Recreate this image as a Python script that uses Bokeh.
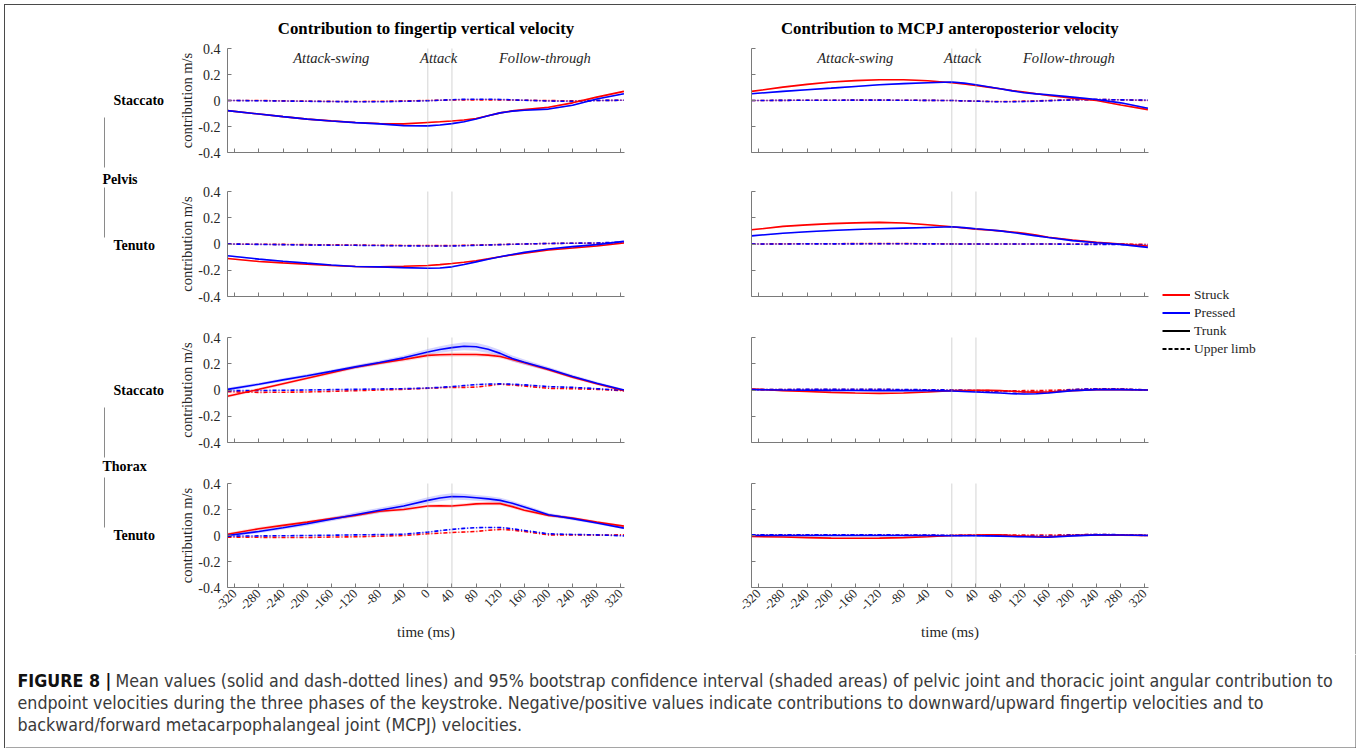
import math
import numpy as np
from bokeh.plotting import figure
from bokeh.models import (Range1d, FixedTicker, Span, Label, Legend, LegendItem,
                          CustomJSTickFormatter, Title, Spacer)
from bokeh.layouts import column, row
from bokeh.embed import file_html
from bokeh.resources import INLINE

# ---------------- data ----------------
time_ms = [-332, -280, -240, -200, -160, -120, -80, -40, 0, 20, 40, 60, 80, 100, 120, 140, 160, 200, 240, 280, 325]
x_ticks = [-320, -280, -240, -200, -160, -120, -80, -40, 0, 40, 80, 120, 160, 200, 240, 280, 320]
x_tick_labels = ["-320", "-280", "-240", "-200", "-160", "-120", "-80", "-40", "0", "40", "80",
                 "120", "160", "200", "240", "280", "320"]
y_ticks = [-0.4, -0.2, 0, 0.2, 0.4]
y_tick_labels = ["-0.4", "-0.2", "0", "0.2", "0.4"]
phase_lines = [0, 40]
phase_names = ["Attack-swing", "Attack", "Follow-through"]
col_titles = ["Contribution to fingertip vertical velocity",
              "Contribution to MCPJ anteroposterior velocity"]
legend_labels = ["Struck", "Pressed", "Trunk", "Upper limb"]
caption_bold = "FIGURE 8 |"
caption_lines = [
    "Mean values (solid and dash-dotted lines) and 95% bootstrap confidence interval (shaded areas) of pelvic joint and thoracic joint angular contribution to",
    "endpoint velocities during the three phases of the keystroke. Negative/positive values indicate contributions to downward/upward fingertip velocities and to",
    "backward/forward metacarpophalangeal joint (MCPJ) velocities.",
]

# fingertip vertical velocity (left column)
fv_pel_stac_struck_trunk = [-0.078, -0.104, -0.124, -0.143, -0.157, -0.169, -0.177, -0.180, -0.169, -0.164, -0.158, -0.150, -0.138, -0.117, -0.095, -0.080, -0.070, -0.052, -0.018, 0.026, 0.070]
fv_pel_stac_press_trunk = [-0.078, -0.104, -0.124, -0.143, -0.158, -0.170, -0.180, -0.193, -0.195, -0.189, -0.178, -0.163, -0.143, -0.118, -0.095, -0.082, -0.075, -0.066, -0.036, 0.012, 0.052]
fv_pel_stac_struck_limb = [0.000, 0.000, -0.003, -0.005, -0.007, -0.008, -0.006, -0.003, 0.000, 0.002, 0.004, 0.005, 0.005, 0.005, 0.004, 0.003, 0.002, -0.001, -0.002, 0.000, 0.002]
fv_pel_stac_press_limb = [0.000, -0.002, -0.004, -0.006, -0.008, -0.009, -0.010, -0.006, -0.002, 0.002, 0.006, 0.009, 0.010, 0.010, 0.008, 0.005, 0.002, -0.004, -0.007, 0.000, 0.002]

fv_pel_ten_struck_trunk = [-0.110, -0.133, -0.144, -0.154, -0.164, -0.172, -0.174, -0.170, -0.164, -0.157, -0.149, -0.139, -0.128, -0.113, -0.097, -0.083, -0.070, -0.046, -0.031, -0.015, 0.008]
fv_pel_ten_press_trunk = [-0.090, -0.115, -0.131, -0.146, -0.160, -0.172, -0.174, -0.180, -0.185, -0.183, -0.174, -0.156, -0.136, -0.116, -0.097, -0.080, -0.064, -0.038, -0.020, -0.005, 0.020]
fv_pel_ten_struck_limb = [0.000, -0.002, -0.003, -0.005, -0.006, -0.008, -0.010, -0.011, -0.012, -0.012, -0.012, -0.010, -0.008, -0.006, -0.004, -0.002, 0.000, 0.004, 0.006, 0.005, 0.010]
fv_pel_ten_press_limb = [0.000, -0.003, -0.005, -0.008, -0.009, -0.010, -0.012, -0.014, -0.015, -0.015, -0.015, -0.013, -0.010, -0.008, -0.005, -0.002, 0.000, 0.004, 0.006, 0.008, 0.015]

fv_tho_stac_struck_trunk = [-0.047, 0.005, 0.048, 0.090, 0.132, 0.173, 0.205, 0.233, 0.264, 0.268, 0.270, 0.271, 0.270, 0.266, 0.255, 0.232, 0.207, 0.155, 0.098, 0.047, -0.005]
fv_tho_stac_press_trunk = [0.005, 0.044, 0.077, 0.109, 0.142, 0.176, 0.210, 0.245, 0.290, 0.308, 0.323, 0.333, 0.330, 0.310, 0.279, 0.240, 0.212, 0.160, 0.103, 0.052, 0.000]
fv_tho_stac_struck_limb = [-0.013, -0.018, -0.017, -0.015, -0.010, -0.005, 0.000, 0.005, 0.013, 0.017, 0.020, 0.020, 0.022, 0.033, 0.044, 0.038, 0.030, 0.013, 0.010, 0.005, -0.005]
fv_tho_stac_press_limb = [-0.005, -0.004, -0.002, 0.000, 0.003, 0.005, 0.008, 0.010, 0.015, 0.020, 0.026, 0.034, 0.041, 0.045, 0.047, 0.044, 0.039, 0.026, 0.020, 0.010, -0.003]

fv_tho_ten_struck_trunk = [0.010, 0.052, 0.078, 0.103, 0.130, 0.155, 0.186, 0.200, 0.227, 0.228, 0.227, 0.235, 0.243, 0.246, 0.245, 0.222, 0.194, 0.155, 0.134, 0.103, 0.072]
fv_tho_ten_press_trunk = [0.000, 0.031, 0.060, 0.090, 0.125, 0.160, 0.194, 0.227, 0.270, 0.288, 0.300, 0.298, 0.290, 0.282, 0.270, 0.248, 0.220, 0.160, 0.130, 0.096, 0.057]
fv_tho_ten_struck_limb = [-0.013, -0.014, -0.015, -0.015, -0.012, -0.010, -0.005, 0.000, 0.013, 0.018, 0.023, 0.027, 0.031, 0.040, 0.047, 0.042, 0.031, 0.005, 0.005, 0.003, 0.005]
fv_tho_ten_press_limb = [-0.005, -0.003, -0.002, 0.000, 0.002, 0.005, 0.007, 0.010, 0.026, 0.037, 0.047, 0.055, 0.060, 0.062, 0.062, 0.052, 0.039, 0.013, 0.008, 0.005, -0.003]

# MCPJ anteroposterior velocity (right column)
ap_pel_stac_struck_trunk = [0.070, 0.103, 0.124, 0.142, 0.153, 0.160, 0.160, 0.152, 0.137, 0.127, 0.116, 0.103, 0.090, 0.077, 0.065, 0.052, 0.039, 0.018, 0.000, -0.034, -0.070]
ap_pel_stac_press_trunk = [0.052, 0.070, 0.083, 0.095, 0.108, 0.121, 0.130, 0.137, 0.142, 0.134, 0.121, 0.106, 0.090, 0.074, 0.060, 0.051, 0.044, 0.026, 0.008, -0.018, -0.060]
ap_pel_stac_struck_limb = [0.000, 0.001, 0.002, 0.002, 0.003, 0.003, 0.002, 0.001, 0.000, -0.003, -0.005, -0.007, -0.008, -0.007, -0.005, -0.003, 0.000, 0.005, 0.008, 0.005, 0.000]
ap_pel_stac_press_limb = [0.000, 0.001, 0.002, 0.002, 0.003, 0.003, 0.002, 0.001, 0.000, -0.003, -0.005, -0.008, -0.010, -0.010, -0.008, -0.005, -0.002, 0.005, 0.008, 0.005, 0.003]

ap_pel_ten_struck_trunk = [0.108, 0.134, 0.146, 0.155, 0.161, 0.165, 0.160, 0.147, 0.131, 0.122, 0.113, 0.107, 0.100, 0.092, 0.082, 0.068, 0.052, 0.031, 0.013, 0.000, -0.015]
ap_pel_ten_press_trunk = [0.062, 0.082, 0.093, 0.103, 0.110, 0.116, 0.121, 0.126, 0.131, 0.125, 0.116, 0.108, 0.100, 0.088, 0.075, 0.062, 0.049, 0.026, 0.010, -0.003, -0.026]
ap_pel_ten_struck_limb = [0.000, 0.001, 0.002, 0.002, 0.003, 0.003, 0.003, 0.002, 0.001, 0.000, 0.000, 0.000, 0.000, 0.000, 0.000, 0.000, 0.000, 0.000, 0.000, 0.000, -0.003]
ap_pel_ten_press_limb = [0.000, 0.000, 0.001, 0.001, 0.001, 0.002, 0.002, 0.001, 0.000, 0.000, 0.000, 0.000, 0.000, 0.000, 0.000, 0.000, 0.000, -0.002, -0.003, -0.004, -0.008]

ap_tho_stac_struck_trunk = [0.008, -0.005, -0.012, -0.018, -0.023, -0.026, -0.023, -0.015, -0.005, -0.004, -0.003, -0.003, -0.005, -0.010, -0.015, -0.016, -0.015, -0.005, 0.003, 0.003, 0.000]
ap_tho_stac_press_trunk = [0.003, 0.000, -0.002, -0.003, -0.004, -0.005, -0.005, -0.005, -0.008, -0.011, -0.015, -0.019, -0.023, -0.028, -0.031, -0.029, -0.023, -0.005, 0.003, 0.003, 0.000]
ap_tho_stac_struck_limb = [0.003, 0.003, 0.003, 0.003, 0.003, 0.003, 0.002, 0.001, -0.002, -0.003, -0.004, -0.005, -0.006, -0.006, -0.005, -0.004, -0.003, 0.003, 0.010, 0.008, 0.000]
ap_tho_stac_press_limb = [0.003, 0.004, 0.005, 0.005, 0.005, 0.005, 0.004, 0.002, 0.000, -0.002, -0.005, -0.008, -0.010, -0.012, -0.014, -0.016, -0.018, 0.003, 0.010, 0.008, 0.000]

ap_tho_ten_struck_trunk = [-0.008, -0.012, -0.016, -0.020, -0.021, -0.020, -0.016, -0.010, 0.000, 0.002, 0.003, 0.005, 0.005, 0.000, -0.005, -0.008, -0.010, 0.000, 0.005, 0.003, 0.000]
ap_tho_ten_press_trunk = [0.000, 0.000, 0.000, 0.000, 0.000, 0.000, 0.000, 0.000, -0.002, -0.002, -0.002, -0.003, -0.005, -0.008, -0.010, -0.012, -0.013, -0.003, 0.005, 0.004, 0.000]
ap_tho_ten_struck_limb = [0.003, 0.003, 0.003, 0.003, 0.003, 0.003, 0.002, 0.001, 0.000, 0.001, 0.002, 0.003, 0.003, 0.003, 0.003, 0.004, 0.004, 0.005, 0.008, 0.005, 0.000]
ap_tho_ten_press_limb = [0.005, 0.005, 0.005, 0.005, 0.005, 0.005, 0.004, 0.003, 0.002, 0.002, 0.001, 0.000, 0.000, -0.002, -0.003, -0.004, -0.005, 0.004, 0.008, 0.006, 0.003]

# 95% bootstrap CI half-widths (read from the shaded areas)
ci_trunk_narrow = 0.006
ci_limb_narrow = 0.004
fv_tho_stac_struck_ci = [0.012, 0.012, 0.012, 0.012, 0.013, 0.013, 0.014, 0.015, 0.016, 0.016, 0.016, 0.016, 0.016, 0.015, 0.015, 0.014, 0.014, 0.013, 0.012, 0.010, 0.008]
fv_tho_stac_press_ci = [0.012, 0.012, 0.012, 0.012, 0.013, 0.014, 0.015, 0.018, 0.022, 0.025, 0.028, 0.030, 0.030, 0.028, 0.025, 0.022, 0.020, 0.016, 0.013, 0.010, 0.008]
fv_tho_ten_struck_ci = [0.012, 0.013, 0.013, 0.013, 0.013, 0.013, 0.013, 0.013, 0.014, 0.014, 0.014, 0.014, 0.014, 0.014, 0.014, 0.014, 0.013, 0.012, 0.010, 0.010, 0.008]
fv_tho_ten_press_ci = [0.012, 0.013, 0.014, 0.015, 0.016, 0.018, 0.020, 0.022, 0.024, 0.025, 0.025, 0.024, 0.022, 0.021, 0.020, 0.018, 0.017, 0.014, 0.012, 0.010, 0.008]

panels = [
    [  # left column
        (fv_pel_stac_struck_trunk, fv_pel_stac_press_trunk, fv_pel_stac_struck_limb, fv_pel_stac_press_limb, ci_trunk_narrow, ci_trunk_narrow),
        (fv_pel_ten_struck_trunk, fv_pel_ten_press_trunk, fv_pel_ten_struck_limb, fv_pel_ten_press_limb, ci_trunk_narrow, ci_trunk_narrow),
        (fv_tho_stac_struck_trunk, fv_tho_stac_press_trunk, fv_tho_stac_struck_limb, fv_tho_stac_press_limb, fv_tho_stac_struck_ci, fv_tho_stac_press_ci),
        (fv_tho_ten_struck_trunk, fv_tho_ten_press_trunk, fv_tho_ten_struck_limb, fv_tho_ten_press_limb, fv_tho_ten_struck_ci, fv_tho_ten_press_ci),
    ],
    [  # right column
        (ap_pel_stac_struck_trunk, ap_pel_stac_press_trunk, ap_pel_stac_struck_limb, ap_pel_stac_press_limb, ci_trunk_narrow, ci_trunk_narrow),
        (ap_pel_ten_struck_trunk, ap_pel_ten_press_trunk, ap_pel_ten_struck_limb, ap_pel_ten_press_limb, ci_trunk_narrow, ci_trunk_narrow),
        (ap_tho_stac_struck_trunk, ap_tho_stac_press_trunk, ap_tho_stac_struck_limb, ap_tho_stac_press_limb, ci_trunk_narrow, ci_trunk_narrow),
        (ap_tho_ten_struck_trunk, ap_tho_ten_press_trunk, ap_tho_ten_struck_limb, ap_tho_ten_press_limb, ci_trunk_narrow, ci_trunk_narrow),
    ],
]

# ---------------- style / layout ----------------
RED = "#ff0000"
BLUE = "#0000ff"
SERIF = "Liberation Serif"
CAP_FONT = "DejaVu Sans Condensed"
AXIS_COL = "#7a7a7a"
TXT_COL = "#262626"
LIMB_DASH = "4 2 1 2"
FRAME_COL = "#4a4a4a"

ROW_TOP = [43, 22, 20, 21]
ROW_FRAME = [104, 105, 105, 104]
ROW_BOT = [17, 21, 20, 67]
LAB_W = 164
COL_W = [520, 470]
COL_BL = [58, 62]
COL_BR = [65, 11]
LEG_W = 197
CAP_H = 94
XR = (-332, 326)
PHASE_X = [-160, 18, 194]

empty_fmt = CustomJSTickFormatter(code="return ''")


def make_panel(ci_col, ri, series):
    st, pt, sl, pl, cs, cp = series
    p = figure(width=COL_W[ci_col], height=ROW_TOP[ri] + ROW_FRAME[ri] + ROW_BOT[ri],
               x_range=Range1d(*XR), y_range=Range1d(-0.4, 0.4),
               output_backend="svg", toolbar_location=None, title=None,
               min_border_left=COL_BL[ci_col], min_border_right=COL_BR[ci_col],
               min_border_top=ROW_TOP[ri], min_border_bottom=ROW_BOT[ri])
    p.outline_line_color = None
    p.grid.visible = False
    p.background_fill_color = "white"
    p.border_fill_color = "white"

    t = np.array(time_ms, dtype=float)
    for vals, ci, col, alpha in ((st, cs, RED, 0.14), (pt, cp, BLUE, 0.17)):
        v = np.array(vals)
        c = np.array(ci) if np.ndim(ci) else np.full_like(v, ci)
        p.varea(x=t, y1=v - c, y2=v + c, fill_color=col, fill_alpha=alpha)
    for vals, col, alpha in ((sl, RED, 0.12), (pl, BLUE, 0.15)):
        v = np.array(vals)
        p.varea(x=t, y1=v - ci_limb_narrow, y2=v + ci_limb_narrow, fill_color=col, fill_alpha=alpha)

    p.line(t, sl, line_color=RED, line_width=1.6, line_dash=LIMB_DASH)
    p.line(t, pl, line_color=BLUE, line_width=1.6, line_dash=LIMB_DASH)
    p.line(t, st, line_color=RED, line_width=1.6)
    p.line(t, pt, line_color=BLUE, line_width=1.6)

    for loc in phase_lines:
        p.add_layout(Span(location=loc, dimension="height", line_color="#a8a8a8",
                          line_width=1, line_dash="1 1"))

    xa = p.xaxis[0]
    ya = p.yaxis[0]
    for ax in (xa, ya):
        ax.axis_line_color = AXIS_COL
        ax.major_tick_line_color = AXIS_COL
        ax.minor_tick_line_color = None
        ax.major_tick_in = 4
        ax.major_tick_out = 0
        ax.major_label_text_font = SERIF
        ax.major_label_text_color = TXT_COL
        ax.axis_label_text_font = SERIF
        ax.axis_label_text_font_style = "normal"
        ax.axis_label_text_color = TXT_COL
    xa.ticker = FixedTicker(ticks=x_ticks)
    ya.ticker = FixedTicker(ticks=y_ticks)

    if ri == 3:
        xa.major_label_overrides = {v: s for v, s in zip(x_ticks, x_tick_labels)}
        xa.major_label_orientation = math.pi / 4
        xa.major_label_text_font_size = "13px"
        xa.major_label_standoff = 4
        xa.axis_label = "time (ms)"
        xa.axis_label_text_font_size = "15px"
        xa.axis_label_standoff = 7
    else:
        xa.formatter = empty_fmt
        xa.major_label_standoff = 0

    if ci_col == 0:
        ya.major_label_overrides = {v: s for v, s in zip(y_ticks, y_tick_labels)}
        ya.major_label_text_font_size = "14px"
        ya.major_label_standoff = 7
        ya.axis_label = "contribution m/s"
        ya.axis_label_text_font_size = "14.5px"
        ya.axis_label_standoff = 0
    else:
        ya.formatter = empty_fmt
        ya.major_label_standoff = 0

    if ri == 0:
        p.title = Title(text=col_titles[ci_col], align="center", text_font=SERIF,
                        text_font_style="bold", text_font_size="16.8px", text_color="black",
                        standoff=21)
        for px, name in zip(PHASE_X, phase_names):
            p.add_layout(Label(x=px, y=0.327, text=name, text_align="center",
                               text_baseline="middle", text_font=SERIF,
                               text_font_style="italic", text_font_size="14.6px",
                               text_color=TXT_COL))
    return p


cols = []
for ci_col in range(2):
    cols.append(column(*[make_panel(ci_col, ri, panels[ci_col][ri]) for ri in range(4)]))

TOTAL_H = sum(ROW_TOP) + sum(ROW_FRAME) + sum(ROW_BOT)
TOTAL_W = LAB_W + sum(COL_W) + LEG_W


def blank_fig(w, h, flip_y=True):
    f = figure(width=w, height=h, x_range=Range1d(0, w),
               y_range=Range1d(h, 0) if flip_y else Range1d(0, h),
               x_axis_type=None, y_axis_type=None, output_backend="svg",
               toolbar_location=None, title=None, min_border=0)
    f.outline_line_color = None
    f.grid.visible = False
    return f


# row labels
lab = blank_fig(LAB_W, TOTAL_H)
row_labels = [("Staccato", 108, 95), ("Pelvis", 97, 174), ("Tenuto", 108, 240),
              ("Staccato", 108, 385), ("Thorax", 97, 461), ("Tenuto", 108, 530)]
for txt, lx, ly in row_labels:
    lab.add_layout(Label(x=lx, y=ly, text=txt, text_align="left", text_baseline="middle",
                         text_font=SERIF, text_font_style="bold", text_font_size="14px",
                         text_color="black"))
lab.segment(x0=[99, 99, 99, 99], y0=[112, 182, 402, 472], x1=[99, 99, 99, 99],
            y1=[162, 232, 452, 522], line_color="#8a8a8a", line_width=1)

# legend column (also carries the right edge of the figure frame)
leg = blank_fig(LEG_W, TOTAL_H)
off = [-5, -4]
r1 = leg.line(off, off, line_color=RED, line_width=2)
r2 = leg.line(off, off, line_color=BLUE, line_width=2)
r3 = leg.line(off, off, line_color="black", line_width=2)
r4 = leg.line(off, off, line_color="black", line_width=2, line_dash="4 2")
legend = Legend(items=[LegendItem(label=l, renderers=[r]) for l, r in zip(legend_labels, [r1, r2, r3, r4])],
                location=(3, 297), orientation="vertical", padding=0, spacing=1, margin=0,
                glyph_width=28, glyph_height=17, label_height=17, label_standoff=4,
                label_text_font=SERIF, label_text_font_size="13.5px", label_text_color=TXT_COL,
                border_line_color=None, background_fill_alpha=0)
leg.add_layout(legend)
leg.add_layout(Span(location=LEG_W - 0.5, dimension="height", line_color=FRAME_COL, line_width=1))

# caption (with right and bottom edges of the frame)
cap = blank_fig(TOTAL_W, CAP_H)
cap.add_layout(Label(x=12, y=26, text=caption_bold, text_align="left", text_baseline="middle",
                     text_font=CAP_FONT, text_font_style="bold", text_font_size="17.7px",
                     text_color="#111111"))
for i, (lx, txt) in enumerate(zip([110, 12, 12], caption_lines)):
    cap.add_layout(Label(x=lx, y=26 + 22 * i, text=txt, text_align="left", text_baseline="middle",
                         text_font=CAP_FONT, text_font_size="17.7px", text_color="#3a3a3a"))
cap.add_layout(Span(location=TOTAL_W - 0.5, dimension="height", line_color=FRAME_COL, line_width=1))
cap.add_layout(Span(location=CAP_H - 0.5, dimension="width", line_color=FRAME_COL, line_width=1))

framed = column(row(lab, cols[0], cols[1], leg), cap,
                styles={"border-top": "1px solid " + FRAME_COL,
                        "border-left": "1px solid " + FRAME_COL})
layout = column(Spacer(height=4), row(Spacer(width=4), framed))

open("out.html", "w").write(file_html(layout, INLINE))
